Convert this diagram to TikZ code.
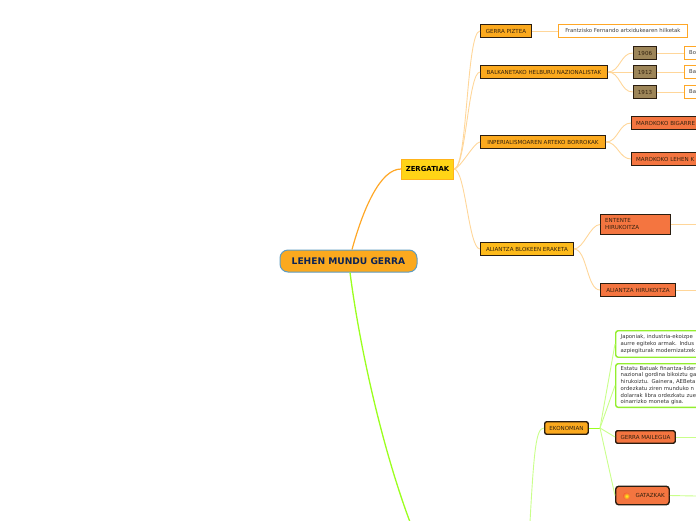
\documentclass[tikz,border=0pt]{standalone}
\usepackage{fontspec}
\setmainfont{DejaVu Sans}
\usepackage{xcolor}
\usetikzlibrary{arrows.meta,positioning,calc}
\definecolor{rootfill}{HTML}{FBA91E}
\definecolor{rootline}{HTML}{5E9CC2}
\definecolor{rootink}{HTML}{0C2355}
\definecolor{goldfill}{HTML}{FFD416}
\definecolor{goldline}{HTML}{FFB31A}
\definecolor{amberfill}{HTML}{FBA91E}
\definecolor{tanfill}{HTML}{9D8558}
\definecolor{redfill}{HTML}{F47540}
\definecolor{boxink}{HTML}{33220F}
\definecolor{boxline}{HTML}{2A1D10}
\definecolor{orlink}{HTML}{FFD699}
\definecolor{grlink}{HTML}{C9FF8A}
\definecolor{orthick}{HTML}{FFA726}
\definecolor{grthick}{HTML}{9BFF1E}
\definecolor{leafgreen}{HTML}{93EE2E}
\tikzset{
  smalltext/.style={font=\fontsize{5.55}{7}\selectfont},
  notetext/.style={font=\fontsize{5.35}{6.7}\selectfont},
  topicbox/.style={draw=boxline, line width=1.4pt, smalltext, text=boxink, inner xsep=4.5pt, inner ysep=0pt, minimum height=12.5pt, anchor=west},
  amberbox/.style={topicbox, fill=amberfill},
  tanbox/.style={topicbox, fill=tanfill, anchor=center, minimum width=23pt},
  redbox/.style={topicbox, fill=redfill},
  leafbox/.style={draw=orthick, line width=1.3pt, fill=white, notetext, text=black!75, inner xsep=4.5pt, inner ysep=0pt, minimum height=12.5pt, anchor=west},
  notebox/.style={draw=leafgreen, line width=1.4pt, fill=white, rounded corners=2.5pt, notetext, text=black!80, inner xsep=5pt, inner ysep=2.5pt, anchor=north west, align=left, text width=100pt},
  link/.style={draw=orlink, line width=.9pt},
  greenlink/.style={draw=grlink, line width=.9pt}
}
\begin{document}
\begin{tikzpicture}[x=1pt,y=-1pt]
  \useasboundingbox (0,0) rectangle (696,520);
  \clip (0,0) rectangle (696,520);
  % free ends at the border of the picture
  \coordinate (endententea) at (696,224.5);
  \coordinate (endhirukoitza) at (696,290);
  \coordinate (endmailegua) at (696,437);
  \coordinate (endgatazkak) at (696,496);
  \coordinate (endroot) at (410,522);
  \coordinate (endekonomian) at (530,522);
  \coordinate (ekojunction) at (600,428);

  % nodes
  \node[fill=rootfill, draw=rootline, line width=1pt, rounded corners=8pt, minimum width=137pt, minimum height=22pt, inner sep=0pt, text=rootink, font=\fontsize{9.1}{11}\selectfont\bfseries] (root) at (348.5,261) {LEHEN MUNDU GERRA};
  \node[fill=goldfill, draw=goldline, line width=1pt, minimum width=52pt, minimum height=20pt, inner sep=0pt, font=\fontsize{6.9}{8}\selectfont\bfseries] (zergatiak) at (427.5,169) {ZERGATIAK};

  \node[amberbox, minimum width=50.5pt] (piztea) at (480,31) {GERRA PIZTEA};
  \node[leafbox, minimum width=128.5pt] (frantzisko) at (558,31) {Frantzisko Fernando artxidukearen hilketak};
  \node[amberbox, minimum width=126.5pt] (balkanetako) at (480,72) {BALKANETAKO HELBURU NAZIONALISTAK};
  \node[tanbox] (urtea) at (645,53) {1906};
  \node[tanbox] (urteb) at (645,72) {1912};
  \node[tanbox] (urtec) at (645,92) {1913};
  \node[leafbox, text width=40pt, align=left] (leafa) at (684,53) {Bo};
  \node[leafbox, text width=40pt, align=left] (leafb) at (684,72) {Ba};
  \node[leafbox, text width=40pt, align=left] (leafc) at (684,92) {Ba};
  \node[amberbox, minimum width=124.5pt] (inperialismo) at (480,142) {INPERIALISMOAREN ARTEKO BORROKAK};
  \node[redbox, text width=100pt, align=left] (bigarren) at (631,123) {MAROKOKO BIGARRE};
  \node[redbox, text width=100pt, align=left] (lehen) at (631,159) {MAROKOKO LEHEN K};
  \node[amberbox, fill=amberfill!60!goldfill, minimum width=92.5pt] (blokeak) at (480,249) {ALIANTZA BLOKEEN ERAKETA};
  \node[redbox, text width=61pt, align=left, minimum height=19.5pt] (entente) at (600,224.5) {ENTENTE\\HIRUKOITZA};
  \node[redbox, minimum width=74.5pt] (hirukoitza) at (600,290) {ALIANTZA HIRUKOITZA};

  \node[notebox, inner ysep=4pt] (japonia) at (615,330) {Japoniak, industria-ekoizpe\\aurre egiteko armak. Indus\\azpiegiturak modernizatzek};
  \node[notebox] (estatu) at (615,363) {Estatu Batuak finantza-lider\\nazional gordina bikoiztu ga\\hirukoiztu. Gainera, AEBeta\\ordezkatu ziren munduko n\\dolarrak libra ordezkatu zue\\oinarrizko moneta gisa.};
  \node[amberbox, rounded corners=2pt, minimum width=43.5pt] (ekonomian) at (544,428) {EKONOMIAN};
  \node[redbox, rounded corners=1.5pt, minimum width=59.5pt] (mailegua) at (615,437) {GERRA MAILEGUA};
  \node[redbox, rounded corners=3pt, minimum width=53.5pt, minimum height=18.5pt, align=right, text width=44.5pt] (gatazkak) at (615,495.5) {GATAZKAK};
  \node[circle, inner sep=0pt, minimum size=7pt, inner color=yellow!90!white, outer color=redfill!80!red] (suna) at (626.5,496) {};

  % main branches
  \draw[orthick, line width=1.2pt] ($(root.north)+(3.5,0)$) .. controls (364,206) and (381,169) .. (zergatiak.west);
  \draw[grthick, line width=1.3pt] ($(root.south)+(1.5,0)$) .. controls (360,350) and (383,450) .. (endroot);

  % zergatiak
  \draw[link] (zergatiak.east) to[out=0,in=180,looseness=.25] (piztea.west);
  \draw[link] (zergatiak.east) to[out=0,in=180,looseness=.3] (balkanetako.west);
  \draw[link] (zergatiak.east) to[out=0,in=180,looseness=.4] (inperialismo.west);
  \draw[link] (zergatiak.east) to[out=0,in=180,looseness=.35] (blokeak.west);
  \draw[link] (piztea.east) -- (frantzisko.west);
  \draw[link] (balkanetako.east) to[out=0,in=180] (urtea.west);
  \draw[link] (balkanetako.east) -- (urteb.west);
  \draw[link] (balkanetako.east) to[out=0,in=180] (urtec.west);
  \draw[link] (urtea.east) -- (leafa.west);
  \draw[link] (urteb.east) -- (leafb.west);
  \draw[link] (urtec.east) -- (leafc.west);
  \draw[link] (inperialismo.east) to[out=0,in=180] (bigarren.west);
  \draw[link] (inperialismo.east) to[out=0,in=180] (lehen.west);
  \draw[link] (blokeak.east) to[out=0,in=180,looseness=.7] (entente.west);
  \draw[link] (blokeak.east) to[out=0,in=180,looseness=.7] (hirukoitza.west);
  \draw[link] (entente.east) -- (endententea);
  \draw[link] (hirukoitza.east) -- (endhirukoitza);

  % ekonomian
  \draw[greenlink] (ekonomian.west) .. controls (536,428) and (534,450) .. (endekonomian);
  \draw[grthick, line width=.9pt] (ekonomian.east) -- (ekojunction);
  \draw[greenlink] (ekojunction) -- (japonia.west);
  \draw[greenlink] (ekojunction) -- (estatu.west);
  \draw[greenlink] (ekojunction) -- (mailegua.west);
  \draw[greenlink] (ekojunction) -- (gatazkak.west);
  \draw[greenlink] (mailegua.east) -- (endmailegua);
  \draw[greenlink] (gatazkak.east) -- (endgatazkak);
\end{tikzpicture}
\end{document}
